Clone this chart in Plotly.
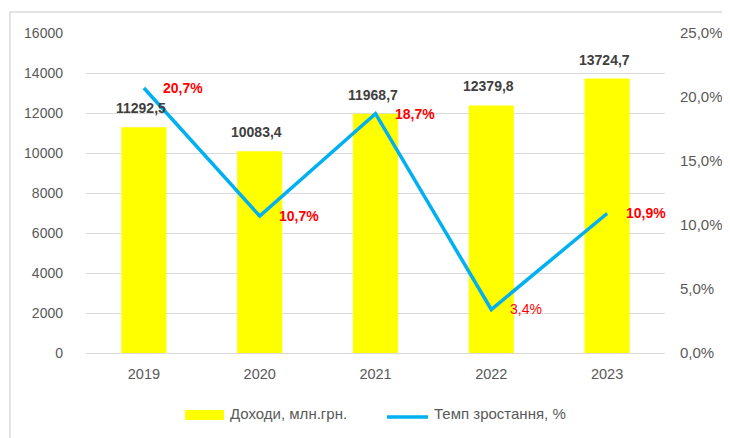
import plotly.graph_objects as go

years = [2019, 2020, 2021, 2022, 2023]
income = [11292.5, 10083.4, 11968.7, 12379.8, 13724.7]
growth = [0.207, 0.107, 0.187, 0.034, 0.109]
income_labels = ["11292,5", "10083,4", "11968,7", "12379,8", "13724,7"]
growth_labels = ["20,7%", "10,7%", "18,7%", "3,4%", "10,9%"]
year_labels = ["2019", "2020", "2021", "2022", "2023"]
series_names = ["Доходи, млн.грн.", "Темп зростання, %"]

FONT = "Arial, Liberation Sans, sans-serif"
GRAY = "#595959"
BAR_COLOR = "#FFFF00"
LINE_COLOR = "#00B0F0"

fig = go.Figure()
fig.add_trace(go.Bar(x=years, y=income, name=series_names[0],
                     marker=dict(color=BAR_COLOR, line=dict(width=0)),
                     width=0.39, yaxis="y", showlegend=False))
fig.add_trace(go.Scatter(x=years, y=growth, name=series_names[1],
                         mode="lines", line=dict(color=LINE_COLOR, width=3.5),
                         yaxis="y2", showlegend=False))

annotations = []
for x, v, t in zip(years, income, income_labels):
    annotations.append(dict(x=x, y=v, xref="x", yref="y", text="<b>%s</b>" % t,
                            showarrow=False, yanchor="bottom", yshift=9, xshift=-3,
                            font=dict(family=FONT, size=14, color="#404040")))
for x, v, t in zip(years, growth, growth_labels):
    bold = t != "3,4%"
    annotations.append(dict(x=x, y=v, xref="x", yref="y2",
                            text=("<b>%s</b>" % t) if bold else t,
                            showarrow=False, xanchor="left", xshift=17, yshift=0,
                            font=dict(family=FONT, size=14, color="#FF0000")))

# custom legend (text entries)
annotations.append(dict(x=0.2453, y=-0.1875, xref="paper", yref="paper", text=series_names[0],
                        showarrow=False, xanchor="left", yanchor="middle",
                        font=dict(family=FONT, size=15, color=GRAY)))
annotations.append(dict(x=0.5976, y=-0.1875, xref="paper", yref="paper", text=series_names[1],
                        showarrow=False, xanchor="left", yanchor="middle",
                        font=dict(family=FONT, size=15, color=GRAY)))

shapes = [
    dict(type="rect", xref="paper", yref="paper", x0=-0.1313, x1=1.2,
         y0=-0.4, y1=1.0656, line=dict(color="#D9D9D9", width=1.5),
         fillcolor="rgba(0,0,0,0)", layer="below"),
    dict(type="rect", xref="paper", yref="paper", x0=0.171, x1=0.2383,
         y0=-0.209, y1=-0.178, line=dict(width=0), fillcolor=BAR_COLOR),
    dict(type="line", xref="paper", yref="paper", x0=0.5199, x1=0.5907,
         y0=-0.2, y1=-0.2, line=dict(color=LINE_COLOR, width=3.5)),
]

fig.update_layout(
    width=730, height=438,
    margin=dict(l=78, r=73, t=25, b=93),
    paper_bgcolor="white", plot_bgcolor="white",
    separators=", ",
    showlegend=False,
    xaxis=dict(type="linear", range=[2018.5, 2023.5], tickvals=years, ticktext=year_labels,
               showgrid=False, showline=False, zeroline=False, ticks="",
               ticklabelstandoff=10,
               tickfont=dict(family=FONT, size=14.5, color=GRAY)),
    yaxis=dict(range=[0, 16000], dtick=2000, tickformat="d", showgrid=True,
               gridcolor="#D9D9D9", gridwidth=1, zeroline=True, zerolinecolor="#D9D9D9",
               zerolinewidth=1, ticks="", ticklabelstandoff=22,
               tickfont=dict(family=FONT, size=14, color=GRAY)),
    yaxis2=dict(range=[0, 0.25], dtick=0.05, tickformat=".1%", overlaying="y",
                side="right", showgrid=False, zeroline=False, ticks="",
                ticklabelstandoff=14,
                tickfont=dict(family=FONT, size=15, color=GRAY)),
    annotations=annotations,
    shapes=shapes,
)

fig.write_html("out.html")
